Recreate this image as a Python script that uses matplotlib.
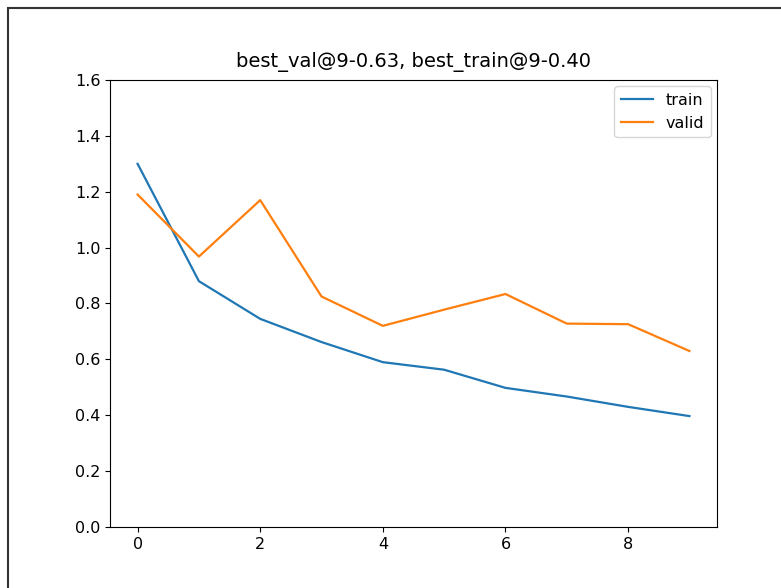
import numpy as np
import matplotlib
matplotlib.use('Agg')
import matplotlib.pyplot as plt
import matplotlib.patches as mpatches

epochs = list(range(10))
train_loss = [1.30, 0.88, 0.745, 0.662, 0.59, 0.563, 0.498, 0.467, 0.43, 0.397]
valid_loss = [1.19, 0.968, 1.17, 0.825, 0.72, 0.778, 0.834, 0.728, 0.726, 0.63]

plt.rcParams['font.size'] = 11.5

fig = plt.figure(figsize=(7.81, 5.88), dpi=100)
ax = fig.add_axes([110 / 781, 61 / 588, 607 / 781, 447 / 588])

ax.plot(epochs, train_loss, label='train', linewidth=1.6)
ax.plot(epochs, valid_loss, label='valid', linewidth=1.6)
ax.set_ylim(0, 1.6)
ax.set_xticks([0, 2, 4, 6, 8])
ax.set_title('best_val@9-0.63, best_train@9-0.40', fontsize=14, pad=9)
ax.legend(loc='upper right', borderaxespad=0.4)

# screenshot frame round the figure
fig.patches.append(mpatches.Rectangle((8 / 781, -0.1), 1.2, 1.1 - 8 / 588,
                                      transform=fig.transFigure, fill=False,
                                      edgecolor='#333333', linewidth=1.5))

fig.savefig('out.png', dpi=100)
